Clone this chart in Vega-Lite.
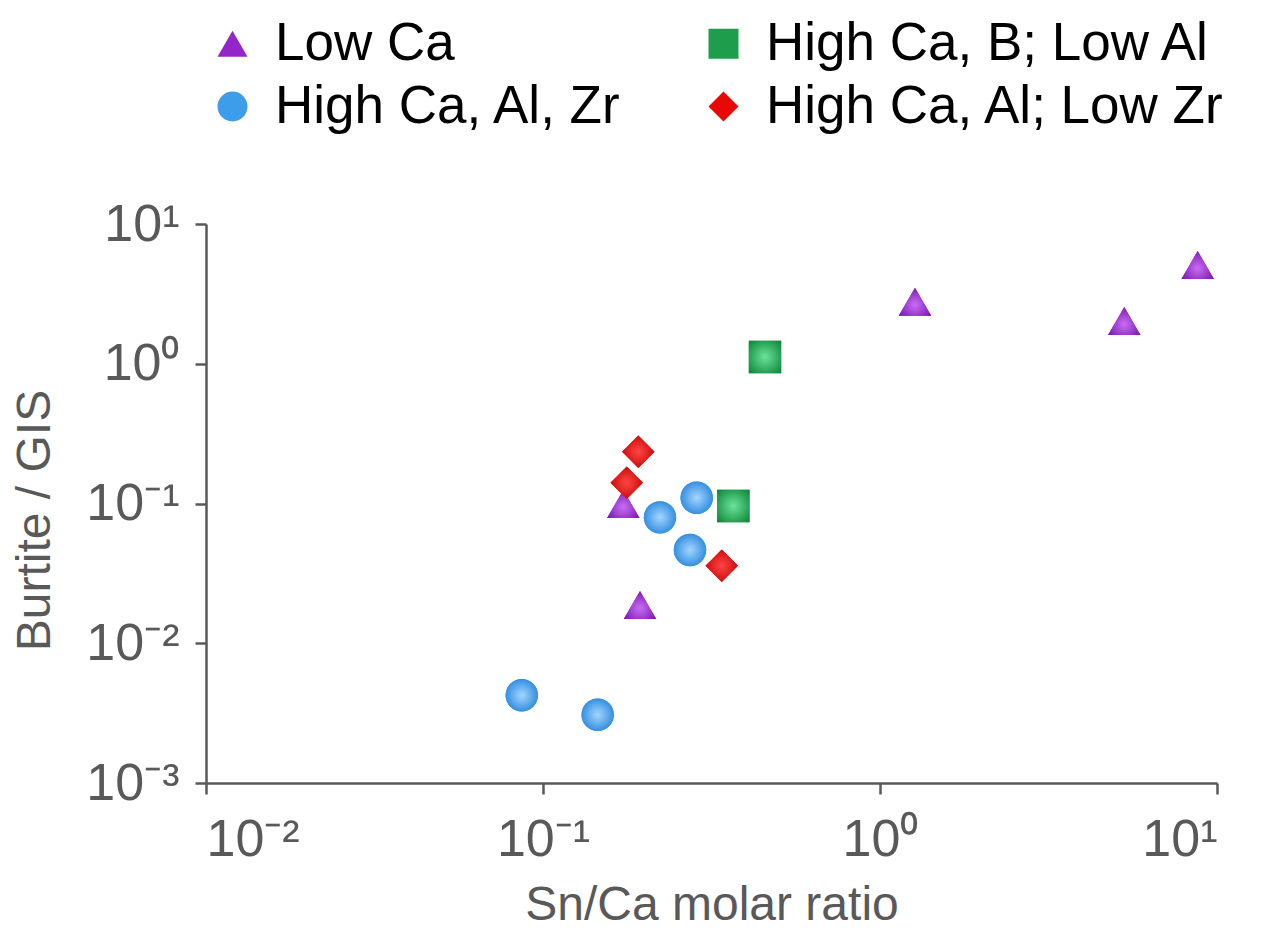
{
  "$schema": "https://vega.github.io/schema/vega-lite/v6.json",
  "width": 1011,
  "height": 559,
  "autosize": "none",
  "padding": {"left": 206, "top": 224, "right": 48, "bottom": 157},
  "background": "white",
  "config": {
    "font": "Liberation Sans",
    "view": {"stroke": null},
    "axis": {
      "grid": false,
      "domainColor": "#595959",
      "domainWidth": 2.5,
      "tickColor": "#595959",
      "tickWidth": 2.5,
      "tickSize": 11,
      "labelColor": "#595959",
      "labelFont": "Liberation Sans",
      "labelFontSize": 52,
      "titleColor": "#595959",
      "titleFont": "Liberation Sans",
      "titleFontSize": 48,
      "titleFontWeight": "normal"
    },
    "legend": {
      "labelFont": "Liberation Sans",
      "labelFontSize": 53,
      "labelColor": "#000000",
      "symbolSize": 900,
      "symbolStrokeWidth": 0,
      "rowPadding": 9,
      "columnPadding": 74,
      "labelOffset": 16,
      "labelLimit": 700
    }
  },
  "data": {
    "values": [
      {"group": "Low Ca", "ratio": 0.1731, "bg": 0.0992},
      {"group": "Low Ca", "ratio": 0.1940, "bg": 0.01878},
      {"group": "Low Ca", "ratio": 1.270, "bg": 2.78},
      {"group": "Low Ca", "ratio": 5.307, "bg": 2.023},
      {"group": "Low Ca", "ratio": 8.763, "bg": 5.089},
      {"group": "High Ca, B; Low Al", "ratio": 0.4558, "bg": 1.118},
      {"group": "High Ca, B; Low Al", "ratio": 0.3671, "bg": 0.0960},
      {"group": "High Ca, Al, Zr", "ratio": 0.2858, "bg": 0.1100},
      {"group": "High Ca, Al, Zr", "ratio": 0.2224, "bg": 0.0796},
      {"group": "High Ca, Al, Zr", "ratio": 0.2730, "bg": 0.0465},
      {"group": "High Ca, Al, Zr", "ratio": 0.0865, "bg": 0.00424},
      {"group": "High Ca, Al, Zr", "ratio": 0.1453, "bg": 0.00308},
      {"group": "High Ca, Al; Low Zr", "ratio": 0.1918, "bg": 0.2348},
      {"group": "High Ca, Al; Low Zr", "ratio": 0.1772, "bg": 0.1409},
      {"group": "High Ca, Al; Low Zr", "ratio": 0.3392, "bg": 0.0359}
    ]
  },
  "encoding": {
    "x": {
      "field": "ratio",
      "type": "quantitative",
      "scale": {"type": "log", "domain": [0.01, 10], "nice": false},
      "axis": {
        "values": [0.01, 0.1, 1, 10],
        "title": "Sn/Ca molar ratio",
        "labelPadding": 20,
        "titlePadding": 16,
        "labelExpr": "datum.value < 0.05 ? '10⁻²' : datum.value < 0.5 ? '10⁻¹' : datum.value < 5 ? '10⁰' : '10¹'"
      }
    },
    "y": {
      "field": "bg",
      "type": "quantitative",
      "scale": {"type": "log", "domain": [0.001, 10], "nice": false},
      "axis": {
        "values": [0.001, 0.01, 0.1, 1, 10],
        "title": "Burtite / GIS",
        "labelPadding": 16,
        "titlePadding": 26,
        "titleY": 296,
        "labelExpr": "datum.value < 0.005 ? '10⁻³' : datum.value < 0.05 ? '10⁻²' : datum.value < 0.5 ? '10⁻¹' : datum.value < 5 ? '10⁰' : '10¹'"
      }
    }
  },
  "layer": [
    {
      "mark": {"type": "point", "filled": true, "opacity": 1, "size": 1050, "strokeWidth": 0},
      "encoding": {
        "color": {
          "field": "group",
          "type": "nominal",
          "scale": {
            "domain": ["Low Ca", "High Ca, B; Low Al", "High Ca, Al, Zr", "High Ca, Al; Low Zr"],
            "range": ["#9426C9", "#1E9E4C", "#3D9DEB", "#E80808"]
          },
          "legend": {"title": null, "orient": "top", "columns": 2, "offset": 90}
        },
        "shape": {
          "field": "group",
          "type": "nominal",
          "scale": {
            "domain": ["Low Ca", "High Ca, B; Low Al", "High Ca, Al, Zr", "High Ca, Al; Low Zr"],
            "range": ["triangle-up", "square", "circle", "diamond"]
          },
          "legend": {"title": null, "orient": "top", "columns": 2, "offset": 90}
        }
      }
    },
    {
      "transform": [{"filter": "datum.group === 'Low Ca'"}],
      "mark": {"type": "point", "shape": "triangle-up", "filled": true, "opacity": 1, "size": 1050, "strokeWidth": 0,
        "color": {"gradient": "radial", "x1": 0.5, "y1": 0.6, "r1": 0, "x2": 0.5, "y2": 0.6, "r2": 0.6, "stops": [{"offset": 0, "color": "#C76EF2"}, {"offset": 1, "color": "#7810B2"}]}},
      "encoding": {}
    },
    {
      "transform": [{"filter": "datum.group === 'High Ca, B; Low Al'"}],
      "mark": {"type": "point", "shape": "square", "filled": true, "opacity": 1, "size": 1050, "strokeWidth": 0,
        "color": {"gradient": "radial", "x1": 0.5, "y1": 0.5, "r1": 0, "x2": 0.5, "y2": 0.5, "r2": 0.65, "stops": [{"offset": 0, "color": "#6BE39A"}, {"offset": 1, "color": "#128A3C"}]}},
      "encoding": {}
    },
    {
      "transform": [{"filter": "datum.group === 'High Ca, Al, Zr'"}],
      "mark": {"type": "point", "shape": "circle", "filled": true, "opacity": 1, "size": 1050, "strokeWidth": 0,
        "color": {"gradient": "radial", "x1": 0.5, "y1": 0.5, "r1": 0, "x2": 0.5, "y2": 0.5, "r2": 0.55, "stops": [{"offset": 0, "color": "#A3D6FF"}, {"offset": 1, "color": "#2A88DE"}]}},
      "encoding": {}
    },
    {
      "transform": [{"filter": "datum.group === 'High Ca, Al; Low Zr'"}],
      "mark": {"type": "point", "shape": "diamond", "filled": true, "opacity": 1, "size": 1050, "strokeWidth": 0,
        "color": {"gradient": "radial", "x1": 0.5, "y1": 0.5, "r1": 0, "x2": 0.5, "y2": 0.5, "r2": 0.6, "stops": [{"offset": 0, "color": "#FF4545"}, {"offset": 1, "color": "#C40000"}]}},
      "encoding": {}
    }
  ]
}
